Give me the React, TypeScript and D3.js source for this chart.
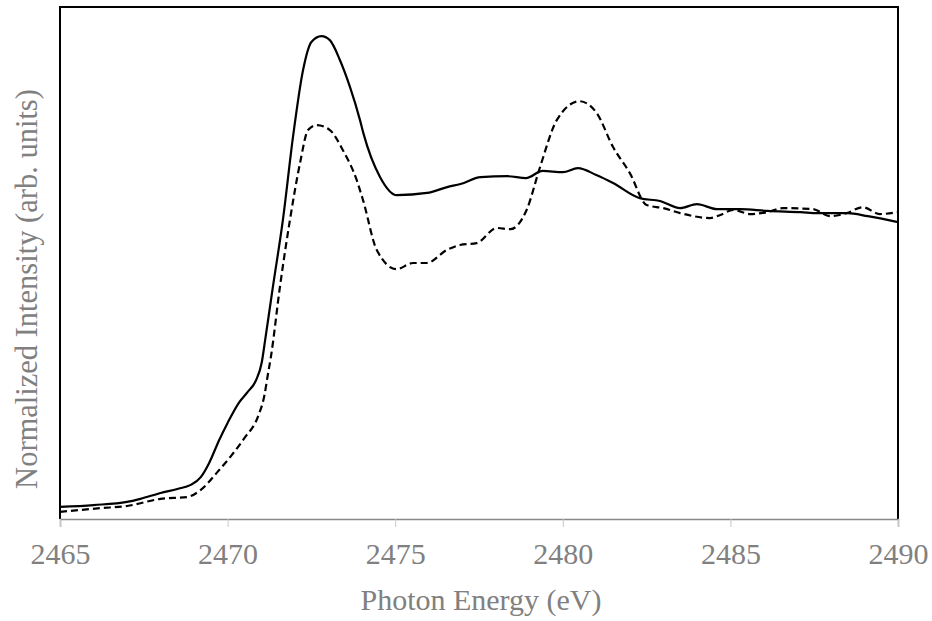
import React, { useEffect, useRef } from "react";
import * as d3 from "d3";

const energySolid = [2465.0, 2466.0, 2467.0, 2467.4, 2468.0, 2468.5, 2468.9, 2469.2, 2469.45, 2469.75, 2470.0, 2470.35, 2470.6, 2470.85, 2471.02, 2471.12, 2471.35, 2471.65, 2471.95, 2472.25, 2472.5, 2472.8, 2473.05, 2473.35, 2473.65, 2473.95, 2474.05, 2474.55, 2475.05, 2475.95, 2476.55, 2476.95, 2477.55, 2478.35, 2478.9, 2479.4, 2480.0, 2480.45, 2481.0, 2481.5, 2482.3, 2482.9, 2483.5, 2484.0, 2484.6, 2485.3, 2486.1, 2487.1, 2487.6, 2488.5, 2489.1, 2490.0];
const intensitySolid = [0.039, 0.045, 0.055, 0.065, 0.084, 0.097, 0.110, 0.135, 0.181, 0.255, 0.310, 0.377, 0.410, 0.448, 0.506, 0.577, 0.748, 0.965, 1.232, 1.448, 1.539, 1.558, 1.545, 1.481, 1.394, 1.287, 1.245, 1.103, 1.045, 1.052, 1.071, 1.081, 1.103, 1.106, 1.100, 1.123, 1.119, 1.132, 1.110, 1.084, 1.035, 1.026, 1.003, 1.016, 1.000, 1.000, 0.994, 0.990, 0.987, 0.987, 0.977, 0.958];

const energyDashed = [2465.0, 2466.2, 2467.0, 2468.0, 2468.8, 2469.2, 2469.7, 2470.1, 2470.5, 2470.9, 2471.1, 2471.2, 2471.3, 2471.56, 2471.86, 2472.16, 2472.4, 2472.66, 2473.05, 2473.44, 2473.85, 2474.04, 2474.45, 2475.04, 2475.53, 2475.94, 2476.54, 2476.93, 2477.43, 2478.03, 2478.43, 2478.92, 2479.32, 2479.82, 2480.5, 2481.01, 2481.5, 2482.0, 2482.5, 2483.0, 2483.5, 2484.4, 2484.7, 2485.08, 2485.6, 2486.08, 2486.57, 2487.46, 2487.97, 2488.47, 2488.95, 2489.46, 2490.0];
const intensityDashed = [0.023, 0.035, 0.042, 0.065, 0.071, 0.094, 0.152, 0.203, 0.261, 0.329, 0.400, 0.465, 0.529, 0.748, 0.965, 1.148, 1.255, 1.271, 1.255, 1.190, 1.094, 1.029, 0.868, 0.806, 0.826, 0.826, 0.868, 0.884, 0.890, 0.939, 0.935, 0.997, 1.135, 1.287, 1.348, 1.310, 1.200, 1.116, 1.013, 1.003, 0.987, 0.971, 0.981, 0.997, 0.984, 0.990, 1.003, 1.000, 0.977, 0.987, 1.006, 0.984, 0.990];

const xTicks = [2465, 2470, 2475, 2480, 2485, 2490];
const xDomain = [2465, 2490];
const yDomain = [0, 1.652];
const xTitle = "Photon Energy (eV)";
const yTitle = "Normalized Intensity (arb. units)";

const W = 932;
const H = 621;
const M = { left: 60, right: 34, top: 7, bottom: 102 };

export default function App() {
  const ref = useRef<SVGSVGElement | null>(null);

  useEffect(() => {
    const svg = d3.select(ref.current);
    svg.selectAll("*").remove();
    const x = d3.scaleLinear().domain(xDomain).range([M.left, W - M.right]);
    const y = d3.scaleLinear().domain(yDomain).range([H - M.bottom, M.top]);
    const font = "'Liberation Serif', 'Times New Roman', serif";
    const grey = "#808080";

    svg.append("rect").attr("width", W).attr("height", H).attr("fill", "#fff");

    const line = d3
      .line<[number, number]>()
      .x((d) => x(d[0]))
      .y((d) => y(d[1]))
      .curve(d3.curveMonotoneX);

    const solid: [number, number][] = energySolid.map((e, i) => [e, intensitySolid[i]]);
    const dashed: [number, number][] = energyDashed.map((e, i) => [e, intensityDashed[i]]);

    svg
      .append("path")
      .attr("d", line(dashed) as string)
      .attr("fill", "none")
      .attr("stroke", "#000")
      .attr("stroke-width", 2.2)
      .attr("stroke-dasharray", "7,4");

    svg
      .append("path")
      .attr("d", line(solid) as string)
      .attr("fill", "none")
      .attr("stroke", "#000")
      .attr("stroke-width", 2.2);

    // frame
    const [x0, x1] = x.range();
    const [y0, y1] = [y(yDomain[0]), y(yDomain[1])];
    svg
      .append("path")
      .attr("d", `M${x0},${y0}V${y1}H${x1}V${y0}`)
      .attr("fill", "none")
      .attr("stroke", "#000")
      .attr("stroke-width", 2);

    // x axis
    const axis = d3
      .axisBottom(x)
      .tickValues(xTicks)
      .tickSize(8)
      .tickPadding(16)
      .tickFormat(d3.format("d"));
    const g = svg
      .append("g")
      .attr("transform", `translate(0,${y0})`)
      .call(axis)
      .attr("font-family", font)
      .attr("font-size", 30);
    g.select(".domain").attr("stroke", "#888").attr("stroke-width", 1.5);
    g.selectAll(".tick line").attr("stroke", "#c8c8c8").attr("stroke-width", 1);
    g.selectAll(".tick text")
      .attr("fill", grey)
      .style("font-family", font)
      .style("font-size", "30px");

    svg
      .append("text")
      .attr("x", (x0 + x1) / 2 + 2)
      .attr("y", 610)
      .attr("text-anchor", "middle")
      .attr("fill", grey)
      .style("font-family", font)
      .style("font-size", "30px")
      .text(xTitle);

    svg
      .append("text")
      .attr("transform", `translate(37,${289}) rotate(-90)`)
      .attr("text-anchor", "middle")
      .attr("fill", grey)
      .style("font-family", font)
      .style("font-size", "30.5px")
      .text(yTitle);
  }, []);

  return (
    <svg
      ref={ref}
      width={W}
      height={H}
      style={{ position: "absolute", left: 0, top: 0, display: "block" }}
    />
  );
}
